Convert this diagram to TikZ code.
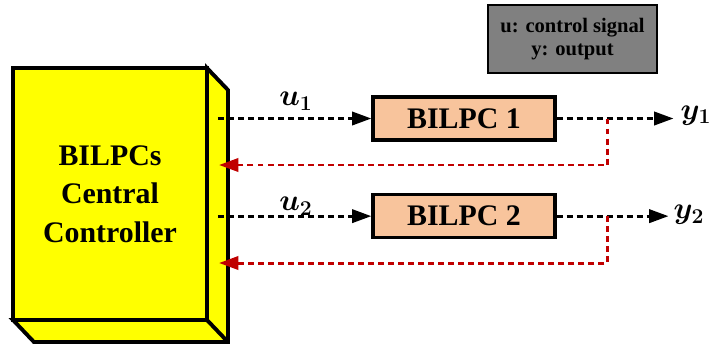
\documentclass[tikz,border=0pt]{standalone}
\usepackage{fontspec}
\setmainfont{Liberation Serif}
\usepackage{amsmath,bm}
\usetikzlibrary{positioning,arrows.meta}

\definecolor{ctrlyellow}{HTML}{FFFF00}
\definecolor{bilpcfill}{HTML}{F8C49C}
\definecolor{legendgray}{HTML}{808080}
\definecolor{fbred}{HTML}{C00000}

\begin{document}
\begin{tikzpicture}[
    x=0.02cm, y=-0.02cm,
    node distance=1.03cm,
    ctrlbox/.style={rectangle, draw, line width=2.2pt, outer sep=0pt, fill=ctrlyellow, minimum width=3.88cm, minimum height=5.04cm, align=center, font=\fontsize{17}{22}\selectfont\bfseries},
    bilpcbox/.style={rectangle, draw, line width=1.8pt, fill=bilpcfill, minimum width=3.64cm, minimum height=0.86cm, font=\fontsize{17}{20}\selectfont\bfseries},
    legendbox/.style={rectangle, draw, line width=0.8pt, fill=legendgray, minimum width=3.38cm, minimum height=1.36cm, align=center, font=\fontsize{11.7}{13.5}\selectfont\bfseries},
    sig/.style={line width=1.7pt, dash pattern=on 3.4pt off 2.3pt, -{Triangle[length=11pt, width=7.5pt]}},
    fb/.style={sig, fbred},
    lbl/.style={font=\fontsize{16.5}{18}\selectfont\boldmath, inner sep=1pt}
]
    \useasboundingbox (0,0) rectangle (713,349);

    % central controller as a box with depth
    \node[ctrlbox] (ctrl) at (110,194) {BILPCs\\Central\\Controller};
    \draw[line width=2.2pt, fill=ctrlyellow] (ctrl.north east) -- ++(21,22) -- ++(0,252) -- ++(-194,0)
        -- (ctrl.south west) -- (ctrl.south east) -- cycle;
    \draw[line width=2.2pt] (ctrl.south east) -- ++(21,22);

    \node[bilpcbox] (bilpc1) at (464,118.5) {BILPC 1};
    \node[bilpcbox, below=of bilpc1] (bilpc2) {BILPC 2};
    \node[legendbox] (legend) at (572.5,39) {u: control signal\\y: output};

    \coordinate[xshift=0.22cm] (u1s) at (ctrl.east |- bilpc1.west);
    \coordinate[xshift=0.22cm] (u2s) at (ctrl.east |- bilpc2.west);
    \coordinate[xshift=2.34cm] (y1e) at (bilpc1.east);
    \coordinate[xshift=2.24cm] (y2e) at (bilpc2.east);
    \coordinate[xshift=1.02cm] (tap1) at (bilpc1.east);
    \coordinate[xshift=1.02cm] (tap2) at (bilpc2.east);
    \coordinate (fb1e) at (219,165);
    \coordinate (fb2e) at (219,263);

    \draw[sig] (u1s) -- (bilpc1.west);
    \draw[sig] (u2s) -- (bilpc2.west);
    \draw[sig] (bilpc1.east) -- (y1e);
    \draw[sig] (bilpc2.east) -- (y2e);
    \draw[fb] (tap1) |- (fb1e);
    \draw[fb] (tap2) |- (fb2e);

    \node[lbl] (u1) at (296,101) {$u_1$};
    \node[lbl] (u2) at (296,206) {$u_2$};
    \node[lbl, anchor=west, xshift=0.1cm, yshift=0.06cm] (y1) at (y1e) {$y_1$};
    \node[lbl, anchor=west, xshift=0.06cm, yshift=0.02cm] (y2) at (y2e) {$y_2$};
\end{tikzpicture}
\end{document}
